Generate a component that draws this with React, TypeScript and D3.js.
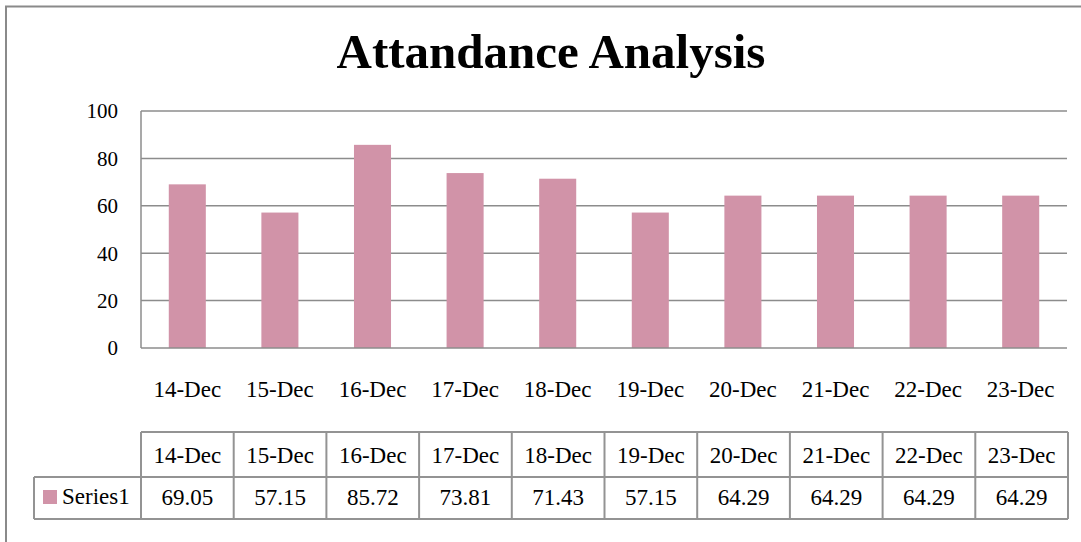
import React from "react";
import * as d3 from "d3";

const categories = ["14-Dec", "15-Dec", "16-Dec", "17-Dec", "18-Dec", "19-Dec", "20-Dec", "21-Dec", "22-Dec", "23-Dec"];
const values = [69.05, 57.15, 85.72, 73.81, 71.43, 57.15, 64.29, 64.29, 64.29, 64.29];
const valueLabels = ["69.05", "57.15", "85.72", "73.81", "71.43", "57.15", "64.29", "64.29", "64.29", "64.29"];
const yTicks = [0, 20, 40, 60, 80, 100];
const seriesName = "Series1";
const title = "Attandance Analysis";

const W = 1081;
const H = 542;
const FONT = "'Liberation Serif', 'Times New Roman', serif";
const BAR = "#D193A8";
const GRID = "#8C8C8C";

export default function App() {
  const plotL = 141, plotR = 1067, plotT = 111, plotB = 348;
  const x = d3.scaleBand<string>().domain(categories).range([plotL, plotR]).paddingInner(0.6).paddingOuter(0.3);
  const col = d3.scaleBand<string>().domain(categories).range([plotL, 1068]).padding(0);
  const y = d3.scaleLinear().domain([0, 100]).range([plotB, plotT]);

  const tTop = 432, tMid = 477, tBot = 519, tLeft = 34;

  return (
    <div style={{ position: "absolute", left: 0, top: 0 }}>
      <svg width={W} height={H} style={{ display: "block", background: "#fff" }}>
        <rect x={6} y={6.5} width={1200} height={700} fill="#fff" stroke="#8A8A8A" strokeWidth={2} />
        <text x={551} y={68} textAnchor="middle" fontFamily={FONT} fontWeight="bold" fontSize={49} fill="#000">
          {title}
        </text>
        {yTicks.map((t) => (
          <g key={t}>
            {t > 0 && (
              <line x1={plotL} x2={plotR} y1={y(t)} y2={y(t)} stroke={GRID} strokeWidth={1.5} />
            )}
            <text x={118} y={y(t)} dy="0.35em" textAnchor="end" fontFamily={FONT} fontSize={21} fill="#000">
              {t}
            </text>
          </g>
        ))}
        {categories.map((c, i) => (
          <rect key={c} x={x(c)} y={y(values[i])} width={x.bandwidth()} height={plotB - y(values[i])} fill={BAR} />
        ))}
        <line x1={plotL} x2={plotL} y1={plotT} y2={plotB} stroke={GRID} strokeWidth={1.5} />
        <line x1={plotL} x2={plotR} y1={plotB} y2={plotB} stroke={GRID} strokeWidth={1.5} />
        {categories.map((c) => (
          <text key={c} x={x(c)! + x.bandwidth() / 2} y={397} textAnchor="middle" fontFamily={FONT} fontSize={23} fill="#000">
            {c}
          </text>
        ))}
        {/* data table */}
        <g stroke="#939393" strokeWidth={2} fill="none">
          <line x1={plotL} x2={1068} y1={tTop} y2={tTop} />
          <line x1={tLeft} x2={1068} y1={tMid} y2={tMid} />
          <line x1={tLeft} x2={1068} y1={tBot} y2={tBot} />
          <line x1={tLeft} x2={tLeft} y1={tMid} y2={tBot} />
          {categories.map((c) => (
            <line key={c} x1={col(c)} x2={col(c)} y1={tTop} y2={tBot} />
          ))}
          <line x1={1068} x2={1068} y1={tTop} y2={tBot} />
        </g>
        {categories.map((c, i) => (
          <g key={c}>
            <text x={col(c)! + col.bandwidth() / 2} y={463} textAnchor="middle" fontFamily={FONT} fontSize={23} fill="#000">
              {c}
            </text>
            <text x={col(c)! + col.bandwidth() / 2} y={505} textAnchor="middle" fontFamily={FONT} fontSize={23} fill="#000">
              {valueLabels[i]}
            </text>
          </g>
        ))}
        <rect x={43} y={490} width={14} height={14} fill={BAR} />
        <text x={62} y={504} fontFamily={FONT} fontSize={23} fill="#000">
          {seriesName}
        </text>
      </svg>
    </div>
  );
}
